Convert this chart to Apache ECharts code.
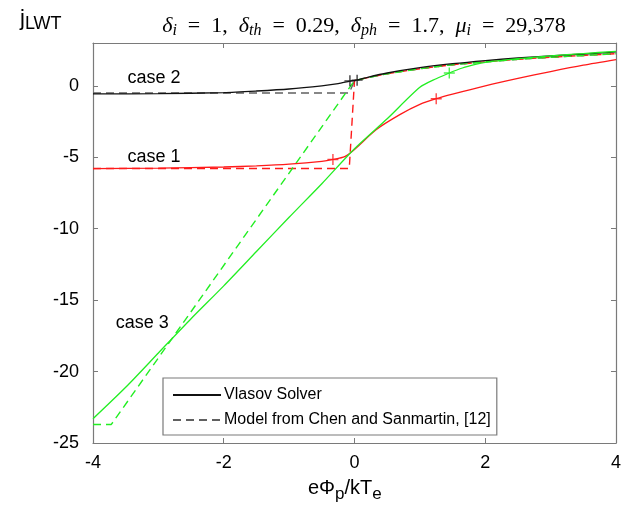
<!DOCTYPE html>
<html>
<head>
<meta charset="utf-8">
<script src="https://cdn.jsdelivr.net/npm/echarts@6/dist/echarts.min.js"></script>
<style>html,body{margin:0;padding:0;background:#fff}#c{width:624px;height:515px}</style>
</head>
<body>
<div id="c"></div>
<script>
// ---- data ----
const xTicks = [-4, -2, 0, 2, 4];
const yTicks = [-25, -20, -15, -10, -5, 0];

// Vlasov solver (solid)
const case1X = [-4, -3, -2, -1.5, -1, -0.5, -0.33, -0.15, 0, 0.33, 0.7, 1, 1.25, 1.5, 2, 2.5, 3, 3.5, 4];
const case1Y = [-5.8, -5.76, -5.68, -5.6, -5.48, -5.28, -5.15, -4.95, -4.45, -3.07, -2.0, -1.3, -0.9, -0.58, 0.0, 0.52, 1.0, 1.45, 1.84];
const case2X = [-4, -3, -2, -1.5, -1, -0.5, -0.25, -0.07, 0.05, 0.2, 0.5, 1, 1.5, 2, 2.5, 3, 3.5, 4];
const case2Y = [-0.56, -0.55, -0.47, -0.36, -0.22, 0.0, 0.15, 0.33, 0.42, 0.6, 0.9, 1.27, 1.55, 1.77, 1.95, 2.1, 2.23, 2.38];
const case3X = [-4, -3.5, -3, -2.5, -2, -1.5, -1, -0.5, 0, 0.5, 1, 1.25, 1.45, 1.65, 1.85, 2, 2.5, 3, 3.5, 4];
const case3Y = [-23.3, -21.1, -18.7, -16.3, -14.0, -11.6, -9.2, -6.85, -4.4, -2.3, -0.1, 0.5, 0.9, 1.25, 1.5, 1.64, 1.9, 2.1, 2.26, 2.42];

// Model from Chen and Sanmartin (dashed): head per case + shared tail
const case1ModelHeadX = [-4, -0.08];
const case1ModelHeadY = [-5.78, -5.78];
const case2ModelHeadX = [-4, -0.08];
const case2ModelHeadY = [-0.5, -0.5];
const case3ModelHeadX = [-4, -3.72];
const case3ModelHeadY = [-23.7, -23.7];
const modelTailX = [0, 0.25, 0.5, 1, 1.5, 2, 2.5, 3, 3.5, 4];
const modelTailY = [0.37, 0.62, 0.85, 1.2, 1.48, 1.68, 1.86, 2.0, 2.13, 2.25];

// "+" markers
const case1MarkX = [-0.33, 1.25];
const case1MarkY = [-5.15, -0.9];
const case2MarkX = [-0.07, 0.04];
const case2MarkY = [0.35, 0.4];
const case3MarkX = [1.45];
const case3MarkY = [0.9];

// case labels (data coords)
const caseLabels = ['case 1', 'case 2', 'case 3'];
const caseLabelX = [-3.48, -3.48, -3.66];
const caseLabelY = [-4.95, 0.58, -16.6];

const legendNames = ['Vlasov Solver', 'Model from Chen and Sanmartin, [12]'];

// ---- build ----
const zip = (xs, ys) => xs.map((x, i) => [x, ys[i]]);
const RED = '#ff1a1a', GREEN = '#22ee22', BLACK = '#111111', GREY = '#606060';
const SANS = 'Liberation Sans, Arial, sans-serif';
const SERIF = 'Liberation Serif, DejaVu Serif, serif';

function solid(data, color) {
  return { type: 'line', data, symbol: 'none', smooth: 0.25, lineStyle: { color, width: 1.3 }, z: 3, silent: true };
}
function dashed(data, color) {
  return { type: 'line', data, symbol: 'none', lineStyle: { color, width: 1.4, type: [8, 5] }, z: 2, silent: true };
}
function marks(data, color) {
  return { type: 'scatter', data, symbol: 'path://M0,5L10,5M5,0L5,10', symbolSize: 11,
    itemStyle: { color: 'none', borderColor: color, borderWidth: 1.4 }, z: 5, silent: true };
}

const model1 = zip(case1ModelHeadX, case1ModelHeadY).concat(zip(modelTailX, modelTailY));
const model2 = zip(case2ModelHeadX, case2ModelHeadY).concat(zip(modelTailX, modelTailY));
const model3 = zip(case3ModelHeadX, case3ModelHeadY).concat(zip(modelTailX, modelTailY));

const chart = echarts.init(document.getElementById('c'), null, { renderer: 'canvas' });
const axisCommon = {
  axisLine: { show: true, onZero: false, lineStyle: { color: '#7a7a7a', width: 1.2 } },
  axisTick: { show: true, inside: true, length: 5, lineStyle: { color: '#7a7a7a' } },
  splitLine: { show: false }
};
const EQ = '\u2002=\u2002';
chart.setOption({
  animation: false,
  backgroundColor: '#fff',
  title: {
    text: '{i|δ}{s|i}{n|' + EQ + '1,\u2002}{i|δ}{s|th}{n|' + EQ + '0.29,\u2002}{i|δ}{s|ph}{n|' + EQ + '1.7,\u2002}{i|μ}{s|i}{n|' + EQ + '29,378}',
    left: 359, top: 8, textAlign: 'center',
    textStyle: {
      fontWeight: 'normal',
      rich: {
        i: { fontFamily: SERIF, fontStyle: 'italic', fontWeight: 'normal', fontSize: 22, color: '#000' },
        s: { fontFamily: SERIF, fontStyle: 'italic', fontWeight: 'normal', fontSize: 16, color: '#000', padding: [10, 0, 0, 0] },
        n: { fontFamily: SERIF, fontWeight: 'normal', fontSize: 22, color: '#000' }
      }
    }
  },
  grid: { left: 93, right: 7, top: 43, bottom: 72 },
  legend: {
    data: legendNames,
    orient: 'vertical', left: 163, top: 378,
    itemWidth: 48, itemHeight: 12, itemGap: 9,
    padding: [9, 6, 7, 9],
    borderColor: '#7a7a7a', borderWidth: 1.2, backgroundColor: '#fff',
    itemStyle: { opacity: 0 },
    textStyle: { fontFamily: SANS, fontSize: 16, color: '#000', padding: [0, 0, 0, -2] },
    selectedMode: false
  },
  xAxis: [
    Object.assign({ type: 'value', min: -4, max: 4, interval: 2, position: 'bottom',
      axisLabel: { fontFamily: SANS, fontSize: 18, color: '#000', margin: 11 } }, axisCommon),
    Object.assign({ type: 'value', min: -4, max: 4, interval: 2, position: 'top',
      axisLabel: { show: false } }, axisCommon)
  ],
  yAxis: [
    Object.assign({ type: 'value', min: -25, max: 3, interval: 5, position: 'left',
      axisLabel: { fontFamily: SANS, fontSize: 18, color: '#000', margin: 14,
        formatter: v => (yTicks.indexOf(v) >= 0 ? String(v) : '') } }, axisCommon),
    Object.assign({ type: 'value', min: -25, max: 3, interval: 5, position: 'right',
      axisLabel: { show: false } }, axisCommon)
  ],
  graphic: [
    { type: 'text', left: 20, top: 8, style: {
      text: '{a|j}{b|LWT}', rich: {
        a: { fontFamily: SANS, fontSize: 22, fill: '#000' },
        b: { fontFamily: SANS, fontSize: 18, fill: '#000', padding: [11, 0, 0, 0] } } } },
    { type: 'text', left: 308, top: 478, style: {
      text: '{a|eΦ}{b|p}{a|/kT}{b|e}', rich: {
        a: { fontFamily: SANS, fontSize: 20, fill: '#000' },
        b: { fontFamily: SANS, fontSize: 17, fill: '#000', padding: [13, 0, 0, 0] } } } }
  ],
  series: [
    dashed(model2, GREY),
    dashed(model1, RED),
    dashed(model3, GREEN),
    solid(zip(case2X, case2Y), BLACK),
    solid(zip(case1X, case1Y), RED),
    solid(zip(case3X, case3Y), GREEN),
    marks(zip(case1MarkX, case1MarkY), RED),
    marks(zip(case2MarkX, case2MarkY), BLACK),
    marks(zip(case3MarkX, case3MarkY), GREEN),
    { type: 'scatter', symbol: 'circle', symbolSize: 1, itemStyle: { opacity: 0 }, silent: true, z: 6,
      data: caseLabels.map((t, i) => ({ value: [caseLabelX[i], caseLabelY[i]], name: t })),
      label: { show: true, position: 'right', distance: 0, formatter: p => p.name, opacity: 1,
        fontFamily: SANS, fontSize: 18, color: '#000000' } },
    { name: legendNames[0], type: 'line', data: [], symbol: 'none', lineStyle: { color: BLACK, width: 1.2 }, itemStyle: { color: BLACK } },
    { name: legendNames[1], type: 'line', data: [], symbol: 'none', lineStyle: { color: GREY, width: 1.2, type: [8, 5] }, itemStyle: { color: GREY } }
  ]
});
</script>
</body>
</html>
